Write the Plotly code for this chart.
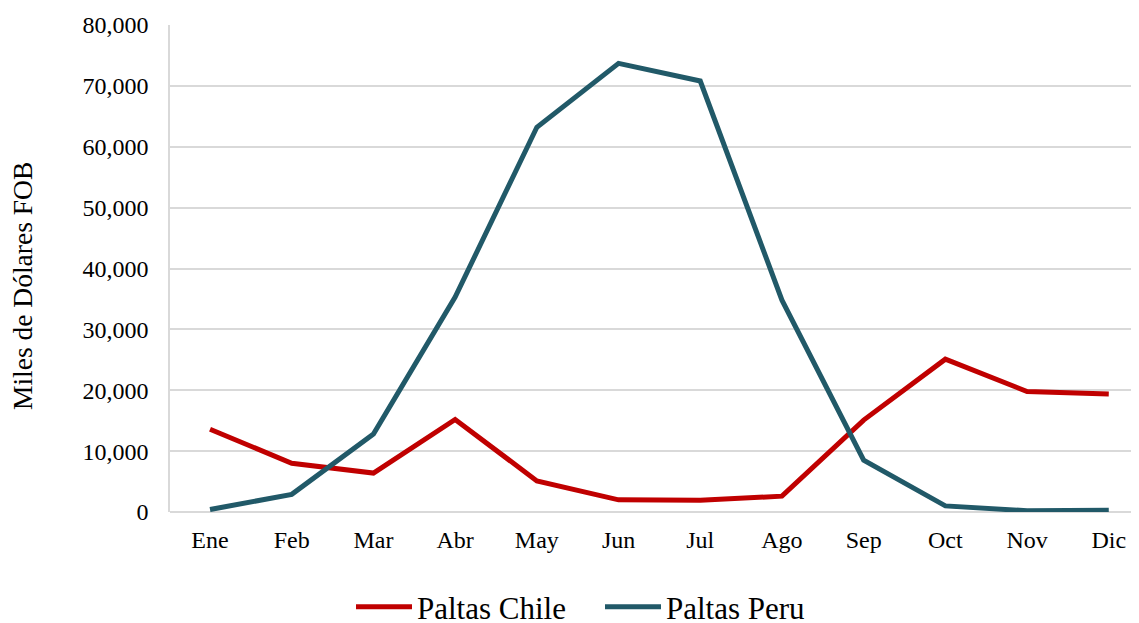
import plotly.graph_objects as go

meses = ["Ene", "Feb", "Mar", "Abr", "May", "Jun", "Jul", "Ago", "Sep", "Oct", "Nov", "Dic"]
paltas_chile = [13600, 8000, 6400, 15200, 5100, 2000, 1950, 2600, 15100, 25100, 19800, 19400]
paltas_peru = [400, 2900, 12800, 35300, 63200, 73700, 70800, 34800, 8500, 1000, 200, 300]
y_ticks = [0, 10000, 20000, 30000, 40000, 50000, 60000, 70000, 80000]

FONT = "Liberation Serif"
x_idx = list(range(len(meses)))

# the page body adds an 8px offset, so the figure is 8px smaller and shifted
W, H = 1131, 615

fig = go.Figure()
fig.add_trace(go.Scatter(x=x_idx, y=paltas_chile, mode="lines", name="Paltas Chile",
                         line=dict(color="#C00000", width=5)))
fig.add_trace(go.Scatter(x=x_idx, y=paltas_peru, mode="lines", name="Paltas Peru",
                         line=dict(color="#215968", width=5)))

fig.update_layout(
    width=W, height=H,
    margin=dict(l=162, r=0, t=17, b=111, autoexpand=False),
    paper_bgcolor="white", plot_bgcolor="white",
    font=dict(family=FONT, color="black", size=24),
    showlegend=True,
    legend=dict(orientation="h", xref="container", yref="container",
                x=592 / W, xanchor="center", y=(H - 599) / H, yanchor="middle",
                itemwidth=56, entrywidth=178, entrywidthmode="pixels",
                font=dict(size=31, family=FONT, color="black"), bgcolor="rgba(0,0,0,0)"),
    xaxis=dict(range=[-0.49, 11.37], tickvals=x_idx, ticktext=meses, showgrid=False,
               zeroline=False, showline=False, ticks="", ticklabelstandoff=11,
               automargin=False, tickfont=dict(size=24, family=FONT)),
    yaxis=dict(range=[0, 80000], tickvals=y_ticks, tickformat=",", showgrid=True,
               gridcolor="#D9D9D9", gridwidth=1.5, zeroline=True, zerolinecolor="#D9D9D9",
               zerolinewidth=1.5, showline=True, linecolor="#D9D9D9", linewidth=1.5,
               ticks="", ticklabelstandoff=15, automargin=False,
               tickfont=dict(size=24, family=FONT)),
    annotations=[dict(text="Miles de Dólares FOB", textangle=-90, xref="paper", yref="paper",
                      x=(14 - 162) / 969, y=(504 - 278) / 487, xanchor="center", yanchor="middle",
                      showarrow=False, font=dict(size=27.5, family=FONT, color="black"))],
)

fig.write_html("out.html")
